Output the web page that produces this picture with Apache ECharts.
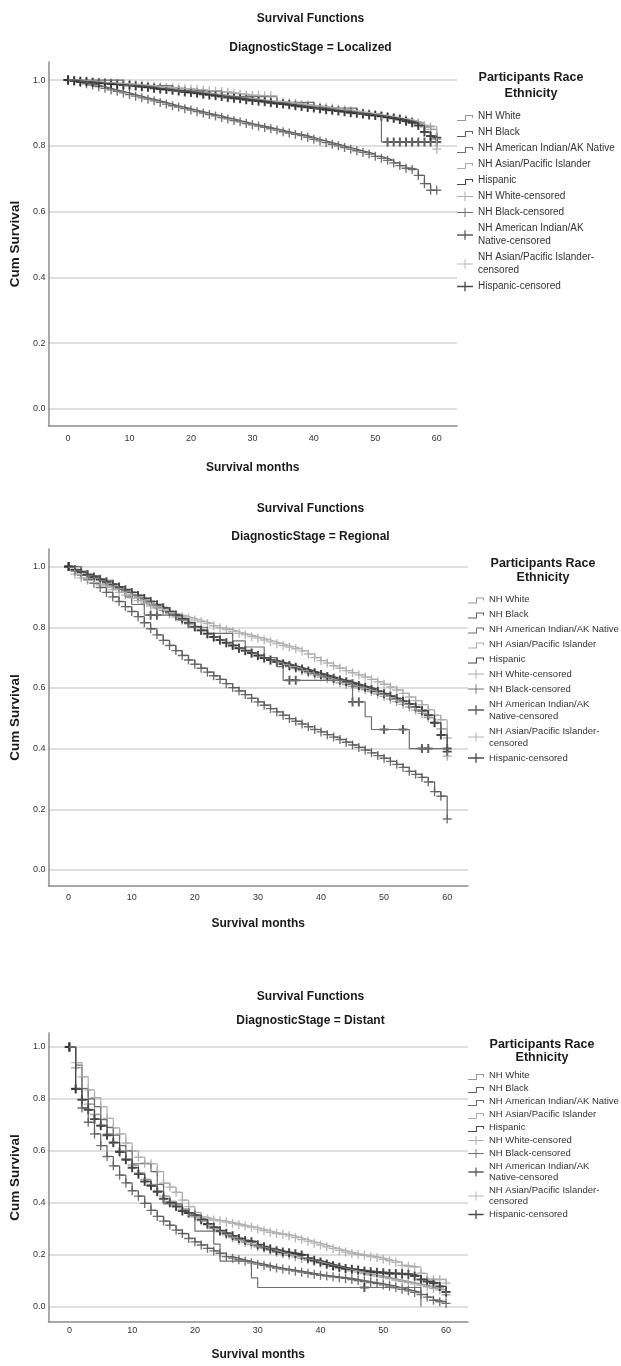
<!DOCTYPE html>
<html>
<head>
<meta charset="utf-8">
<script src="https://cdn.jsdelivr.net/npm/echarts@6/dist/echarts.min.js"></script>
<style>
  html, body { margin: 0; padding: 0; background: #fff; }
  .panel { position: absolute; left: 0; width: 621px; }
</style>
</head>
<body>
<div id="p1" class="panel" style="top:0;height:480px"></div>
<div id="p2" class="panel" style="top:480px;height:470px"></div>
<div id="p3" class="panel" style="top:950px;height:416px"></div>
<script>
// ---- data (survival by month 0..60) ----
const RACES = ['NH White', 'NH Black', 'NH American Indian/AK Native', 'NH Asian/Pacific Islander', 'Hispanic']
const CENSORED = ['NH White-censored', 'NH Black-censored', 'NH American Indian/AK Native-censored',
  'NH Asian/Pacific Islander-censored', 'Hispanic-censored']
const MONTH_TICKS = [0, 10, 20, 30, 40, 50, 60]
const SURV_TICKS = [0, 0.2, 0.4, 0.6, 0.8, 1.0]
const ALL_MONTHS = [0, 1, 2, 3, 4, 5, 6, 7, 8, 9, 10, 11, 12, 13, 14, 15, 16, 17, 18, 19, 20, 21, 22, 23, 24, 25, 26, 27, 28, 29,
  30, 31, 32, 33, 34, 35, 36, 37, 38, 39, 40, 41, 42, 43, 44, 45, 46, 47, 48, 49, 50, 51, 52, 53, 54, 55, 56, 57, 58, 59, 60]

// Localized
const WHITE_L = [1, .999, .997, .996, .994, .993, .991, .99, .988, .987,
  .985, .983, .981, .979, .977, .975, .973, .971, .969, .967,
  .965, .963, .961, .958, .956, .954, .951, .949, .947, .944,
  .942, .94, .937, .935, .932, .93, .928, .925, .923, .92,
  .918, .915, .913, .91, .908, .905, .903, .9, .898, .895,
  .893, .89, .887, .884, .881, .878, .873, .868, .858, .85, .82]
const BLACK_L = [1, .997, .993, .989, .985, .98, .975, .97, .966, .961,
  .956, .951, .946, .942, .937, .932, .927, .922, .918, .913,
  .909, .904, .9, .895, .891, .886, .882, .877, .873, .868,
  .864, .86, .856, .852, .848, .843, .839, .835, .831, .826,
  .82, .815, .81, .805, .8, .795, .79, .785, .78, .775,
  .768, .762, .756, .748, .74, .732, .728, .71, .685, .665, .665]
const AMIND_L = [1, 1, 1, 1, 1, 1, 1, 1, 1, .983,
  .983, .983, .983, .983, .983, .983, .983, .967, .967, .967,
  .967, .967, .967, .967, .967, .95, .95, .95, .95, .95,
  .95, .95, .95, .95, .932, .932, .932, .932, .932, .932,
  .915, .915, .915, .915, .915, .915, .915, .897, .897, .897,
  .897, .812, .812, .812, .812, .812, .812, .812, .812, .812, .812]
const ASIAN_L = [1, .999, .998, .997, .995, .993, .992, .991, .99, .989,
  .988, .986, .985, .983, .981, .98, .978, .977, .975, .974,
  .972, .971, .969, .968, .966, .965, .963, .96, .958, .955,
  .953, .953, .952, .952, .935, .933, .931, .929, .926, .924,
  .922, .92, .917, .915, .912, .91, .907, .904, .901, .898,
  .895, .892, .889, .886, .883, .88, .875, .87, .862, .858, .79]
const HISP_L = [1, .998, .996, .995, .993, .991, .99, .988, .987, .985,
  .984, .982, .98, .978, .975, .973, .971, .969, .967, .964,
  .962, .96, .957, .955, .952, .95, .947, .945, .943, .94,
  .938, .936, .934, .931, .929, .927, .925, .922, .92, .917,
  .915, .913, .91, .908, .906, .904, .901, .899, .897, .894,
  .892, .89, .887, .884, .88, .875, .87, .862, .842, .83, .825]
const AMIND_L_CENS = [0, 52, 53, 54, 55, 56, 57, 58, 59, 60]

// Regional
const WHITE_R = [1, .99, .981, .972, .963, .954, .945, .936, .927, .917,
  .907, .897, .887, .876, .866, .856, .845, .834, .823, .811,
  .8, .789, .778, .768, .758, .749, .74, .731, .722, .714,
  .706, .698, .691, .684, .677, .67, .664, .657, .65, .643,
  .636, .63, .624, .617, .611, .605, .6, .594, .588, .58,
  .572, .563, .555, .546, .537, .527, .516, .502, .486, .465, .375]
const BLACK_R = [1, .985, .972, .958, .945, .931, .915, .9, .885, .868,
  .852, .835, .815, .795, .775, .757, .74, .723, .707, .692,
  .678, .665, .652, .64, .628, .614, .601, .59, .578, .566,
  .554, .543, .532, .521, .51, .499, .49, .481, .472, .463,
  .455, .446, .438, .43, .421, .412, .404, .395, .386, .377,
  .368, .358, .348, .338, .325, .315, .305, .29, .258, .243, .168]
const AMIND_R = [1, 1, .985, .97, .97, .955, .955, .925, .925, .9,
  .875, .875, .84, .84, .84, .84, .84, .825, .825, .8,
  .8, .8, .78, .78, .78, .78, .755, .755, .735, .735,
  .735, .7, .7, .67, .625, .625, .625, .625, .625, .625,
  .625, .625, .625, .625, .625, .554, .554, .505, .463, .463,
  .463, .463, .463, .463, .4, .4, .4, .4, .4, .4, .4]
const ASIAN_R = [1, .975, .963, .955, .947, .94, .932, .924, .915, .906,
  .897, .888, .879, .87, .862, .855, .848, .842, .836, .83,
  .824, .818, .812, .805, .798, .792, .786, .78, .775, .769,
  .764, .758, .752, .746, .74, .735, .729, .722, .712, .7,
  .69, .682, .673, .665, .657, .65, .643, .636, .628, .62,
  .612, .603, .593, .582, .57, .558, .545, .528, .51, .495, .435]
const HISP_R = [1, .99, .982, .974, .966, .958, .95, .942, .933, .924,
  .915, .905, .895, .885, .874, .864, .852, .84, .828, .815,
  .802, .79, .779, .768, .758, .749, .74, .731, .723, .715,
  .707, .699, .692, .686, .68, .674, .668, .662, .656, .65,
  .644, .638, .632, .626, .62, .614, .608, .602, .596, .589,
  .581, .573, .565, .556, .547, .537, .525, .51, .485, .445, .39]
const AMIND_R_CENS = [0, 13, 14, 35, 36, 45, 46, 50, 53, 56, 57, 60]

// Distant
const WHITE_D = [1, .92, .84, .78, .74, .7, .665, .63, .6, .57,
  .545, .515, .49, .47, .445, .425, .405, .39, .375, .36,
  .345, .33, .315, .3, .288, .276, .265, .255, .246, .238,
  .23, .223, .216, .209, .203, .197, .191, .185, .179, .173,
  .167, .161, .155, .149, .143, .137, .132, .127, .122, .117,
  .112, .107, .102, .097, .092, .087, .082, .076, .07, .064, .045]
const BLACK_D = [1, .84, .765, .71, .665, .62, .578, .542, .506, .476,
  .446, .425, .397, .37, .347, .329, .313, .294, .281, .262,
  .249, .237, .224, .214, .205, .192, .186, .18, .174, .168,
  .163, .158, .153, .148, .144, .14, .136, .132, .128, .124,
  .12, .117, .114, .111, .108, .104, .1, .096, .092, .088,
  .083, .078, .072, .066, .06, .054, .046, .036, .024, .018, .012]
const AMIND_D = [1, .93, .84, .8, .77, .72, .69, .66, .62, .6,
  .55, .55, .55, .52, .47, .395, .395, .395, .37, .35,
  .29, .29, .29, .24, .175, .175, .175, .175, .175, .11,
  .073, .073, .073, .073, .073, .073, .073, .073, .073, .073,
  .073, .073, .073, .073, .073, .073, .073, .073, .073, .073,
  .073, .073, .073, .073, .073, .073, 0]
const ASIAN_D = [1, .94, .885, .835, .805, .77, .725, .688, .665, .63,
  .6, .575, .552, .55, .52, .475, .46, .44, .41, .385,
  .362, .345, .338, .333, .33, .325, .32, .315, .31, .305,
  .298, .292, .286, .281, .278, .272, .265, .258, .251, .244,
  .237, .23, .223, .216, .21, .204, .2, .197, .192, .188,
  .182, .176, .17, .158, .155, .152, .128, .105, .104, .104, .09]
const HISP_D = [1, .838, .797, .758, .722, .696, .66, .632, .595, .565,
  .535, .51, .482, .465, .442, .415, .4, .385, .368, .36,
  .352, .335, .318, .305, .292, .282, .272, .262, .254, .249,
  .238, .23, .222, .215, .21, .207, .203, .198, .186, .178,
  .171, .164, .157, .151, .146, .143, .14, .137, .134, .132,
  .13, .127, .127, .126, .124, .117, .104, .096, .089, .077, .056]
const AMIND_D_CENS = [0, 47]

// ---- styling ----
const FONT = "'Liberation Sans',Arial,sans-serif"
const LINE_COLORS = ['#989898', '#5e5e5e', '#6e6e6e', '#adadad', '#474747']
const CROSS_COLORS = ['#939393', '#4e4e4e', '#333333', '#a2a2a2', '#1e1e1e']
const THIN_CROSS = 'path://M0,4.25H10V5.75H0ZM4.25,0H5.75V10H4.25Z'
const BOLD_CROSS = 'path://M0,3.9H10V6.1H0ZM3.9,0H6.1V10H3.9Z'
const CROSS_SYMBOLS = [THIN_CROSS, THIN_CROSS, BOLD_CROSS, THIN_CROSS, BOLD_CROSS]
const STEP_ICON = 'path://M0,8H8V3H16V6H15V4H9V9H0ZM0,0H0.01V0.01H0Z'
const LEG_CROSS = 'path://M0,4.5H17V5.5H0ZM8,0H9V10H8Z'
const LEG_CROSS_BOLD = 'path://M0,4.3H17V5.7H0ZM7.8,0H9.2V10H7.8Z'
const LEGEND_TEXT = {
  'NH American Indian/AK Native-censored': 'NH American Indian/AK\nNative-censored',
  'NH Asian/Pacific Islander-censored': 'NH Asian/Pacific Islander-\ncensored'
}

const panels = [
  {
    el: 'p1', stage: 'Localized',
    curves: [WHITE_L, BLACK_L, AMIND_L, ASIAN_L, HISP_L],
    cens: [ALL_MONTHS, ALL_MONTHS, AMIND_L_CENS, ALL_MONTHS, ALL_MONTHS],
    titleTop: 13, subTop: 42,
    grid: { left: 47, top: 62, width: 410, height: 364 },
    x: [-3.2, 63.3], y: [-0.052, 1.055],
    xLabelMargin: 8, xNameGap: 36, yNameGap: 22,
    legend: { left: 457, top: 110, font: 10, line: 13, gap: 3, h: 10 },
    head: { x: 531, y: 70, line: 16 }
  },
  {
    el: 'p2', stage: 'Regional',
    curves: [WHITE_R, BLACK_R, AMIND_R, ASIAN_R, HISP_R],
    cens: [ALL_MONTHS, ALL_MONTHS, AMIND_R_CENS, ALL_MONTHS, ALL_MONTHS],
    titleTop: 23, subTop: 51,
    grid: { left: 48, top: 69, width: 420, height: 337 },
    x: [-3.2, 63.3], y: [-0.053, 1.058],
    xLabelMargin: 7, xNameGap: 32, yNameGap: 22,
    legend: { left: 468, top: 113, font: 9.5, line: 12, gap: 3, h: 10 },
    head: { x: 543, y: 77, line: 14 }
  },
  {
    el: 'p3', stage: 'Distant',
    curves: [WHITE_D, BLACK_D, AMIND_D, ASIAN_D, HISP_D],
    cens: [ALL_MONTHS, ALL_MONTHS, AMIND_D_CENS, ALL_MONTHS, ALL_MONTHS],
    titleTop: 41, subTop: 65,
    grid: { left: 47, top: 83, width: 421, height: 293 },
    x: [-3.34, 63.5], y: [-0.06, 1.054],
    xLabelMargin: 4, xNameGap: 27, yNameGap: 22,
    legend: { left: 468, top: 120, font: 9.5, line: 11, gap: 2, h: 9 },
    head: { x: 542, y: 88, line: 13 }
  }
]

const initPanel = (p) => {
  const chart = echarts.init(document.getElementById(p.el))
  const lineSeries = RACES.map((name, i) => ({
    name: name,
    type: 'line',
    step: 'end',
    showSymbol: false,
    symbol: 'none',
    silent: true,
    data: p.curves[i].map((v, m) => [m, v]),
    lineStyle: { color: LINE_COLORS[i], width: 1.2 },
    itemStyle: { color: LINE_COLORS[i] }
  }))
  const censSeries = CENSORED.map((name, i) => ({
    name: name,
    type: 'scatter',
    symbol: CROSS_SYMBOLS[i],
    symbolSize: 9,
    silent: true,
    data: p.cens[i].filter(m => m < p.curves[i].length).map(m => [m, p.curves[i][m]]),
    itemStyle: { color: CROSS_COLORS[i] }
  }))
  const legendData = RACES.map(n => ({ name: n, icon: STEP_ICON }))
    .concat(CENSORED.map((n, i) => ({ name: n, icon: (i === 2 || i === 4) ? LEG_CROSS_BOLD : LEG_CROSS })))

  const option = {
    animation: false,
    backgroundColor: '#fff',
    title: [
      {
        text: 'Survival Functions', left: 'center', top: p.titleTop, padding: 0,
        textStyle: { fontFamily: FONT, fontSize: 12, fontWeight: 'bold', color: '#1a1a1a' }
      },
      {
        text: 'DiagnosticStage = ' + p.stage, left: 'center', top: p.subTop, padding: 0,
        textStyle: { fontFamily: FONT, fontSize: 12, fontWeight: 'bold', color: '#1a1a1a' }
      }
    ],
    graphic: [
      {
        type: 'text', x: p.head.x, y: p.head.y, silent: true,
        style: {
          text: 'Participants Race\nEthnicity', align: 'center', verticalAlign: 'top',
          fontFamily: FONT, fontSize: 12.5, fontWeight: 'bold', lineHeight: p.head.line, fill: '#1a1a1a'
        }
      }
    ],
    legend: {
      orient: 'vertical',
      left: p.legend.left,
      top: p.legend.top,
      padding: 0,
      itemWidth: 16,
      itemHeight: p.legend.h,
      itemGap: p.legend.gap,
      selectedMode: false,
      data: legendData,
      formatter: name => LEGEND_TEXT[name] || name,
      textStyle: { fontFamily: FONT, fontSize: p.legend.font, lineHeight: p.legend.line, color: '#333' }
    },
    grid: p.grid,
    xAxis: {
      type: 'value',
      min: p.x[0],
      max: p.x[1],
      name: 'Survival months',
      nameLocation: 'middle',
      nameGap: p.xNameGap,
      nameTextStyle: { fontFamily: FONT, fontSize: 12, fontWeight: 'bold', color: '#1a1a1a' },
      axisLine: { show: true, onZero: false, lineStyle: { color: '#8c8c8c', width: 1.5 } },
      axisTick: { show: false, customValues: MONTH_TICKS },
      axisLabel: {
        customValues: MONTH_TICKS, margin: p.xLabelMargin,
        fontFamily: FONT, fontSize: 9, color: '#333'
      },
      splitLine: { show: false }
    },
    yAxis: {
      type: 'value',
      min: p.y[0],
      max: p.y[1],
      name: 'Cum Survival',
      nameLocation: 'middle',
      nameRotate: 90,
      nameGap: p.yNameGap,
      nameTextStyle: { fontFamily: FONT, fontSize: 13.5, fontWeight: 'bold', color: '#1a1a1a' },
      axisLine: { show: true, onZero: false, lineStyle: { color: '#8c8c8c', width: 1.5 } },
      axisTick: { show: false, customValues: SURV_TICKS },
      axisLabel: {
        customValues: SURV_TICKS, margin: 3,
        formatter: v => v.toFixed(1),
        fontFamily: FONT, fontSize: 9, color: '#333'
      },
      splitLine: { show: true, lineStyle: { color: '#d4d4d4', width: 1.5 } }
    },
    series: lineSeries.concat(censSeries)
  }
  chart.setOption(option)
}

panels.forEach(initPanel)
</script>
</body>
</html>
